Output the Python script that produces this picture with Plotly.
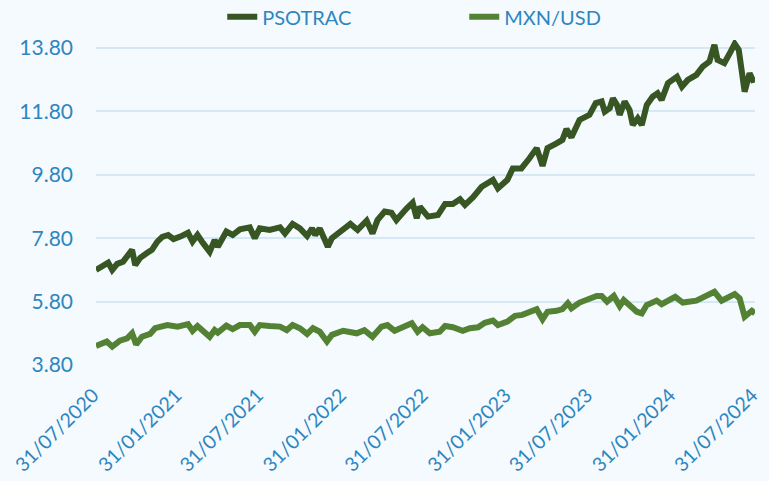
import plotly.graph_objects as go

# ---- data ----
psotrac_dates = [
    "2020-07-31", "2020-08-15", "2020-08-27", "2020-09-05", "2020-09-16", "2020-09-29",
    "2020-10-10", "2020-10-19", "2020-10-26", "2020-11-06", "2020-11-21", "2020-12-02",
    "2020-12-14", "2020-12-25", "2021-01-07", "2021-01-19", "2021-02-03", "2021-02-20",
    "2021-03-02", "2021-03-13", "2021-03-25", "2021-04-09", "2021-04-20", "2021-04-27",
    "2021-05-16", "2021-05-30", "2021-06-15", "2021-07-07", "2021-07-18", "2021-07-29",
    "2021-08-20", "2021-09-12", "2021-09-23", "2021-10-10", "2021-10-26", "2021-11-11",
    "2021-11-22", "2021-11-29", "2021-12-09", "2021-12-27", "2022-01-05", "2022-01-23",
    "2022-02-15", "2022-03-03", "2022-03-23", "2022-04-05", "2022-04-16", "2022-05-02",
    "2022-05-17", "2022-05-28", "2022-06-09", "2022-06-20", "2022-07-03", "2022-07-12",
    "2022-07-19", "2022-08-06", "2022-08-28", "2022-09-13", "2022-09-30", "2022-10-16",
    "2022-10-27", "2022-11-14", "2022-12-03", "2022-12-28", "2023-01-08", "2023-01-29",
    "2023-02-10", "2023-03-01", "2023-03-19", "2023-04-04", "2023-04-17", "2023-04-28",
    "2023-05-18", "2023-05-31", "2023-06-09", "2023-06-20", "2023-07-08", "2023-07-30",
    "2023-08-13", "2023-08-26", "2023-09-02", "2023-09-13", "2023-09-20", "2023-09-29",
    "2023-10-05", "2023-10-16", "2023-10-27", "2023-11-03", "2023-11-14", "2023-11-23",
    "2023-12-04", "2023-12-17", "2023-12-28", "2024-01-06", "2024-01-20", "2024-02-09",
    "2024-02-20", "2024-03-04", "2024-03-23", "2024-04-06", "2024-04-21", "2024-05-02",
    "2024-05-09", "2024-05-24", "2024-06-05", "2024-06-16", "2024-06-25", "2024-07-02",
    "2024-07-08", "2024-07-19", "2024-07-26", "2024-07-31",
]
psotrac_values = [
    6.80, 6.90, 7.03, 6.80, 6.99, 7.06,
    7.24, 7.43, 6.95, 7.18, 7.33, 7.43,
    7.69, 7.84, 7.90, 7.77, 7.85, 7.97,
    7.69, 7.90, 7.65, 7.37, 7.74, 7.53,
    8.01, 7.90, 8.08, 8.14, 7.80, 8.11,
    8.06, 8.14, 7.95, 8.25, 8.11, 7.87,
    8.11, 7.90, 8.11, 7.53, 7.80, 8.01,
    8.25, 8.06, 8.35, 7.95, 8.37, 8.64,
    8.60, 8.37, 8.53, 8.74, 8.92, 8.43,
    8.79, 8.48, 8.53, 8.88, 8.88, 9.03,
    8.85, 9.09, 9.42, 9.64, 9.37, 9.64,
    10.00, 10.00, 10.32, 10.64, 10.08, 10.64,
    10.79, 10.90, 11.24, 10.98, 11.53, 11.69,
    12.06, 12.11, 11.79, 11.90, 12.21, 12.00,
    11.69, 12.11, 11.84, 11.37, 11.58, 11.37,
    12.00, 12.26, 12.37, 12.16, 12.69, 12.89,
    12.58, 12.79, 12.95, 13.21, 13.37, 13.90,
    13.42, 13.32, 13.63, 13.93, 13.74, 13.11,
    12.42, 13.00, 12.79, 12.81,
]

mxn_dates = [
    "2020-07-31", "2020-08-24", "2020-09-05", "2020-09-22", "2020-10-08", "2020-10-19",
    "2020-10-28", "2020-11-10", "2020-11-28", "2020-12-09", "2021-01-05", "2021-01-28",
    "2021-02-20", "2021-03-02", "2021-03-13", "2021-03-29", "2021-04-09", "2021-04-20",
    "2021-04-27", "2021-05-16", "2021-05-30", "2021-06-15", "2021-07-07", "2021-07-18",
    "2021-07-29", "2021-08-20", "2021-09-12", "2021-09-27", "2021-10-10", "2021-10-26",
    "2021-11-11", "2021-11-24", "2021-12-09", "2021-12-25", "2022-01-05", "2022-01-30",
    "2022-03-01", "2022-03-18", "2022-04-05", "2022-04-25", "2022-05-08", "2022-05-24",
    "2022-06-09", "2022-07-01", "2022-07-14", "2022-07-25", "2022-08-10", "2022-09-01",
    "2022-09-13", "2022-09-30", "2022-10-22", "2022-11-07", "2022-11-25", "2022-12-10",
    "2022-12-28", "2023-01-08", "2023-01-29", "2023-02-15", "2023-03-03", "2023-03-19",
    "2023-04-04", "2023-04-17", "2023-04-28", "2023-05-18", "2023-05-31", "2023-06-12",
    "2023-06-20", "2023-07-08", "2023-07-25", "2023-08-15", "2023-08-26", "2023-09-07",
    "2023-09-22", "2023-10-05", "2023-10-14", "2023-11-01", "2023-11-12", "2023-11-23",
    "2023-12-04", "2023-12-26", "2024-01-06", "2024-02-05", "2024-02-22", "2024-03-23",
    "2024-04-10", "2024-05-02", "2024-05-18", "2024-06-16", "2024-06-27", "2024-07-08",
    "2024-07-24", "2024-07-31",
]
mxn_values = [
    4.40, 4.54, 4.38, 4.57, 4.64, 4.80,
    4.45, 4.69, 4.78, 4.96, 5.06, 5.01,
    5.09, 4.88, 5.03, 4.85, 4.69, 4.90,
    4.82, 5.04, 4.93, 5.06, 5.06, 4.85,
    5.06, 5.03, 5.01, 4.90, 5.06, 4.96,
    4.78, 4.96, 4.85, 4.54, 4.75, 4.88,
    4.80, 4.90, 4.69, 5.01, 5.06, 4.88,
    4.96, 5.12, 4.85, 4.99, 4.80, 4.85,
    5.03, 4.99, 4.88, 4.96, 4.99, 5.13,
    5.20, 5.06, 5.17, 5.35, 5.38, 5.48,
    5.56, 5.24, 5.48, 5.51, 5.56, 5.75,
    5.59, 5.77, 5.85, 5.98, 5.98, 5.80,
    5.98, 5.66, 5.85, 5.59, 5.48, 5.43,
    5.69, 5.83, 5.72, 5.95, 5.77, 5.83,
    5.98, 6.11, 5.83, 6.04, 5.90, 5.32,
    5.51, 5.43,
]

x_tick_dates = [
    "2020-07-31", "2021-01-31", "2021-07-31", "2022-01-31", "2022-07-31",
    "2023-01-31", "2023-07-31", "2024-01-31", "2024-07-31",
]
y_tick_values = [3.80, 5.80, 7.80, 9.80, 11.80, 13.80]

series_names = ["PSOTRAC", "MXN/USD"]

# ---- styling ----
TEXT = "#2E86BE"
BG = "#F5FAFE"
GRID = "#D5E8F5"
FONT = "Lato"

fig = go.Figure()
fig.add_trace(go.Scatter(x=psotrac_dates, y=psotrac_values, mode="lines",
                         name=series_names[0],
                         line=dict(color="#375623", width=6)))
fig.add_trace(go.Scatter(x=mxn_dates, y=mxn_values, mode="lines",
                         name=series_names[1],
                         line=dict(color="#548235", width=6)))

fig.update_layout(
    width=769, height=481,
    paper_bgcolor=BG, plot_bgcolor=BG,
    margin=dict(l=96, r=14, t=40, b=116, autoexpand=False),
    font=dict(family=FONT, size=21, color=TEXT),
    showlegend=True,
    legend=dict(orientation="h", xref="container", yref="container",
                x=0.289, xanchor="left", y=0.965, yanchor="middle",
                font=dict(family=FONT, size=20, color=TEXT),
                bgcolor="rgba(0,0,0,0)",
                entrywidth=197, entrywidthmode="pixels",
                itemwidth=30),
)
fig.update_xaxes(
    type="date",
    range=["2020-07-31", "2024-07-31"],
    tickvals=x_tick_dates,
    tickformat="%d/%m/%Y",
    tickangle=-45,
    showgrid=False, zeroline=False, showline=False,
    ticks="", ticklabelstandoff=14, ticklabelshift=-3,
    ticklabeloverflow="allow",
    automargin=False,
    tickfont=dict(family=FONT, size=19.5, color=TEXT),
)
fig.update_yaxes(
    range=[3.8, 14.05],
    tickvals=y_tick_values,
    tickformat=".2f",
    showgrid=True, gridcolor=GRID, gridwidth=2,
    zeroline=False, showline=False,
    ticks="", ticklabelstandoff=22,
    automargin=False,
    tickfont=dict(family=FONT, size=21, color=TEXT),
)

fig.write_html("out.html")
